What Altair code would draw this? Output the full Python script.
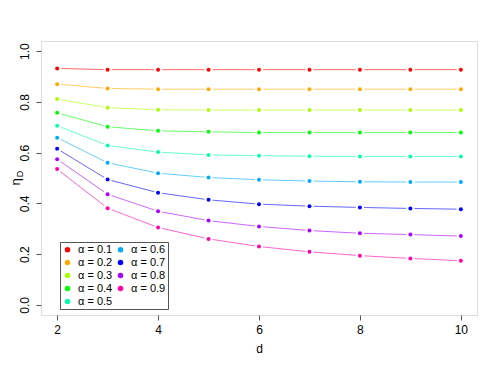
import altair as alt
import pandas as pd

d_values = [2, 3, 4, 5, 6, 7, 8, 9, 10]
alphas = ["0.1", "0.2", "0.3", "0.4", "0.5", "0.6", "0.7", "0.8", "0.9"]
colors = ["#FF0000", "#FFAA00", "#AAFF00", "#00FF00", "#00FFAA",
          "#00AAFF", "#0000FF", "#AA00FF", "#FF00AA"]

eta_a01 = [0.932, 0.927, 0.927, 0.927, 0.927, 0.927, 0.927, 0.927, 0.927]
eta_a02 = [0.870, 0.853, 0.850, 0.850, 0.850, 0.850, 0.850, 0.850, 0.850]
eta_a03 = [0.811, 0.777, 0.769, 0.768, 0.768, 0.768, 0.768, 0.768, 0.768]
eta_a04 = [0.757, 0.702, 0.686, 0.682, 0.679, 0.679, 0.679, 0.679, 0.679]
eta_a05 = [0.706, 0.628, 0.602, 0.591, 0.588, 0.586, 0.585, 0.585, 0.585]
eta_a06 = [0.659, 0.560, 0.519, 0.502, 0.493, 0.488, 0.485, 0.484, 0.484]
eta_a07 = [0.615, 0.494, 0.442, 0.414, 0.397, 0.389, 0.384, 0.380, 0.377]
eta_a08 = [0.574, 0.436, 0.369, 0.332, 0.309, 0.293, 0.282, 0.277, 0.271]
eta_a09 = [0.535, 0.381, 0.305, 0.260, 0.230, 0.209, 0.194, 0.183, 0.174]

series = [eta_a01, eta_a02, eta_a03, eta_a04, eta_a05,
          eta_a06, eta_a07, eta_a08, eta_a09]

rows = []
for a, vals in zip(alphas, series):
    for d, v in zip(d_values, vals):
        rows.append({"d": d, "eta": v, "alpha": a})
df = pd.DataFrame(rows)

FONT = "Liberation Sans"

x_enc = alt.X("d:Q", scale=alt.Scale(domain=[1.68, 10.32], nice=False, zero=False),
              axis=alt.Axis(values=[2, 4, 6, 8, 10], title="d", grid=False, domain=False,
                            tickColor="#555", tickSize=5, labelFontSize=12,
                            labelPadding=4, titleFontSize=12, titleFontWeight="normal",
                            titlePadding=8, labelColor="#000", titleColor="#000"))
y_enc = alt.Y("eta:Q", scale=alt.Scale(domain=[-0.04, 1.04], nice=False, zero=False),
              axis=alt.Axis(values=[0, 0.2, 0.4, 0.6, 0.8, 1.0], format=".1f", title=None,
                            grid=False, domain=False, tickColor="#555", tickSize=5,
                            labelFontSize=12, labelAngle=270, labelAlign="center",
                            labelBaseline="bottom", labelPadding=5, labelColor="#000"))

color_scale = alt.Scale(domain=alphas, range=colors)

base = alt.Chart(df).encode(x=x_enc, y=y_enc)

lines = base.mark_line(strokeWidth=1, opacity=0.6).encode(
    color=alt.Color("alpha:N", scale=color_scale, legend=None),
    detail="alpha:N")

halo = base.mark_point(filled=True, shape="circle", size=70, color="white", opacity=1)

dots = base.mark_point(filled=True, shape="circle", size=16, opacity=1).encode(
    color=alt.Color("alpha:N", scale=color_scale,
                    legend=alt.Legend(orient="none", legendX=19, legendY=201, columns=2,
                                      title=None, symbolType="circle", symbolSize=30,
                                      symbolStrokeWidth=0, labelFontSize=11,
                                      labelExpr="'α = ' + datum.label",
                                      strokeColor="#555", fillColor="white", padding=2,
                                      rowPadding=1, columnPadding=2, labelOffset=5,
                                      labelColor="#000", symbolOpacity=1)))

eta_label = alt.Chart(pd.DataFrame({"t": ["η"]})).mark_text(
    angle=270, fontSize=13, font=FONT, baseline="alphabetic", align="center", color="#000"
).encode(text="t:N", x=alt.value(-21), y=alt.value(141))
d_label = alt.Chart(pd.DataFrame({"t": ["D"]})).mark_text(
    angle=270, fontSize=9, font=FONT, baseline="alphabetic", align="center", color="#000"
).encode(text="t:N", x=alt.value(-18), y=alt.value(133))

chart = alt.layer(lines, halo, dots, eta_label, d_label).resolve_legend(
    color="independent"
).properties(
    width=436, height=274,
    autosize=alt.AutoSizeParams(type="none"),
    padding={"left": 33, "top": 33, "right": 13, "bottom": 45},
).configure_view(stroke="#999", strokeWidth=1).configure(
    font=FONT, background="white")

chart.save("out.html", embed_options={"renderer": "svg", "actions": False})
